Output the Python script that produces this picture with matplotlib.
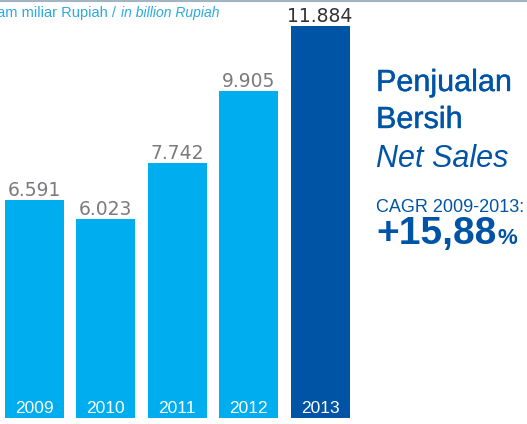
import matplotlib
matplotlib.use("Agg")
import matplotlib.pyplot as plt
import matplotlib.patheffects as pe
from matplotlib.lines import Line2D

# === データ ===
years = ["2009", "2010", "2011", "2012", "2013"]
net_sales = [6591, 6023, 7742, 9905, 11884]
value_labels = ["6.591", "6.023", "7.742", "9.905", "11.884"]

W, H = 527, 424
LIGHT = "#00aeef"
DARK = "#0054a6"

fig = plt.figure(figsize=(W / 100, H / 100), dpi=100)
ax = fig.add_axes([0, 0, 1, 1])

# pixel -> data 変換用
step = 71.4          # バー間隔 [px]
x0 = 34.5            # 最初のバー中心 [px]
base = 418           # バー下端 [px]
ppu = 0.033          # 1 単位あたり px

xs = list(range(len(years)))
colors = [LIGHT] * 4 + [DARK]
ax.bar(xs, net_sales, width=59 / step, color=colors)

ax.set_xlim(-x0 / step, (W - x0) / step)
ax.set_ylim(-(H - base) / ppu, base / ppu)
ax.axis("off")

for i, (v, lab, yr) in enumerate(zip(net_sales, value_labels, years)):
    last = i == len(years) - 1
    ax.text(i, v + 4 / ppu, lab, ha="center", va="baseline",
            fontsize=13.5, family="DejaVu Sans",
            color="#333333" if last else "#7a7b7e")
    ax.text(i, (base - 413) / ppu, yr, ha="center", va="baseline",
            fontsize=12.5, family="Liberation Sans", color="white")

# 上の罫線
fig.add_artist(Line2D([0, 1], [1 - 0.8 / H, 1 - 0.8 / H], color="#a3b5c2", lw=1.5))


def ftext(x, y, s, **kw):
    fig.text(x / W, 1 - y / H, s, va="baseline", **kw)


# 単位（左端は元画像でも切れている）
ftext(116, 17, "Dalam miliar Rupiah /", ha="right", fontsize=10.5, color="#29abe2",
      family="Liberation Sans")
ftext(121, 17, "in billion Rupiah", ha="left", fontsize=10, color="#29abe2",
      style="italic", family="Liberation Sans")

# 右側タイトル（ほんの少し太らせる）
medium = [pe.withStroke(linewidth=0.3, foreground=DARK)]
ftext(376, 91, "Penjualan", fontsize=22, color=DARK, family="Liberation Sans", path_effects=medium)
ftext(376, 128, "Bersih", fontsize=22, color=DARK, family="Liberation Sans", path_effects=medium)
ftext(376, 167, "Net Sales", fontsize=22, color=DARK, family="Liberation Sans", style="italic")
ftext(376, 212.5, "CAGR 2009-2013:", fontsize=13, color=DARK, family="Liberation Sans")
ftext(376, 244, "+15,88", fontsize=28, color=DARK, family="Liberation Sans", fontweight="bold")
ftext(497, 244, "%", fontsize=16, color=DARK, family="Liberation Sans", fontweight="bold")

plt.savefig("out.png", dpi=100)
